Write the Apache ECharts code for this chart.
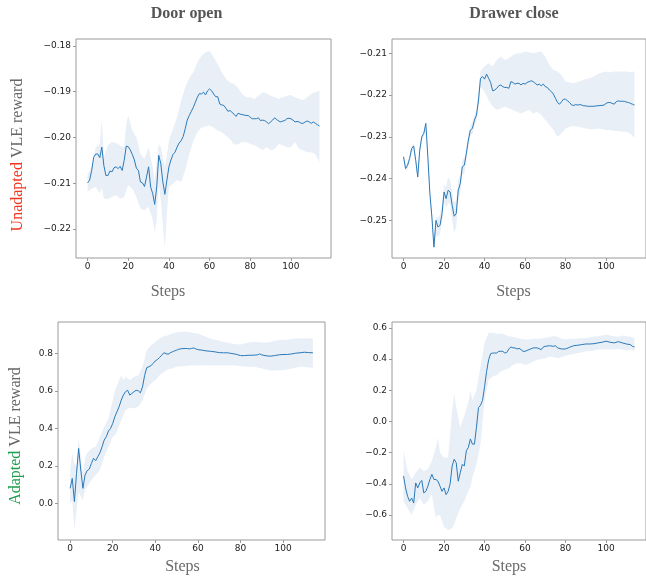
<!DOCTYPE html>
<html>
<head>
<meta charset="utf-8">
<script src="https://cdn.jsdelivr.net/npm/echarts@6/dist/echarts.min.js"></script>
<style>
  html, body { margin: 0; padding: 0; background: #ffffff; }
  #chart { width: 646px; height: 580px; }
</style>
</head>
<body>
<div id="chart"></div>
<script>
// ---- Shared tick values ----
const stepTicks = [0, 20, 40, 60, 80, 100];
const doorUnTicks = [-0.22, -0.21, -0.20, -0.19, -0.18];
const drawerUnTicks = [-0.25, -0.24, -0.23, -0.22, -0.21];
const doorAdTicks = [0.0, 0.2, 0.4, 0.6, 0.8];
const drawerAdTicks = [-0.6, -0.4, -0.2, 0.0, 0.2, 0.4, 0.6];

// ---- Door open, unadapted VLE reward ----
const doorUnSteps = [
  0,1,2,3,4,5,6,7,8,9,10,11,12,13,14,15,16,17,18,19,20,21,22,23,24,25,26,27,28,29,
  30,31,32,33,34,35,36,37,38,39,40,41,42,43,44,45,46,47,48,49,50,51,52,53,54,55,56,57,58,59,
  60,61,62,63,64,65,66,67,68,69,70,71,72,73,74,75,76,77,78,79,80,81,82,83,84,85,86,87,88,89,
  90,91,92,93,94,95,96,97,98,99,100,101,102,103,104,105,106,107,108,109,110,111,112,113,114];
const doorUnMean = [
  -0.2099,-0.2093,-0.2072,-0.2043,-0.2036,-0.2036,-0.2044,-0.2021,-0.2061,-0.2083,
  -0.2083,-0.2073,-0.2075,-0.2066,-0.2064,-0.2068,-0.2063,-0.2072,-0.2050,-0.2019,
  -0.2020,-0.2027,-0.2037,-0.2049,-0.2067,-0.2072,-0.2097,-0.2099,-0.2107,-0.2086,
  -0.2064,-0.2108,-0.2122,-0.2146,-0.2108,-0.2039,-0.2057,-0.2097,-0.2124,-0.2093,
  -0.2064,-0.2049,-0.2037,-0.2032,-0.2021,-0.2012,-0.2007,-0.1998,-0.1981,-0.1962,
  -0.1952,-0.1943,-0.1934,-0.1923,-0.1912,-0.1904,-0.1905,-0.1901,-0.1907,-0.1898,
  -0.1894,-0.1898,-0.1905,-0.1911,-0.1911,-0.1927,-0.1929,-0.1930,-0.1936,-0.1943,
  -0.1941,-0.1945,-0.1949,-0.1954,-0.1947,-0.1949,-0.1950,-0.1951,-0.1952,-0.1952,
  -0.1956,-0.1959,-0.1959,-0.1959,-0.1957,-0.1963,-0.1962,-0.1963,-0.1966,-0.1970,
  -0.1966,-0.1962,-0.1957,-0.1961,-0.1964,-0.1966,-0.1964,-0.1963,-0.1959,-0.1958,
  -0.1959,-0.1962,-0.1966,-0.1965,-0.1966,-0.1969,-0.1969,-0.1966,-0.1964,-0.1966,
  -0.1969,-0.1966,-0.1969,-0.1972,-0.1975];
const doorUnBandSteps = [
  0,2,4,6,7,8,10,12,14,16,18,19,20,22,24,26,28,30,32,33,34,35,36,37,38,39,40,
  42,44,46,48,50,52,54,56,58,60,62,64,66,68,70,72,74,76,78,80,82,84,86,88,90,
  92,94,96,98,100,102,104,106,108,110,112,114];
const doorUnUpper = [
  -0.2080,-0.2064,-0.2021,-0.2014,-0.1959,-0.2043,-0.2017,-0.2010,-0.2012,-0.2018,-0.2021,-0.1970,-0.1952,
  -0.1985,-0.1999,-0.2036,-0.2046,-0.2021,-0.2064,-0.2093,-0.2050,-0.2014,-0.2020,-0.2043,-0.2064,-0.2040,-0.2007,
  -0.1981,-0.1956,-0.1920,-0.1891,-0.1870,-0.1858,-0.1836,-0.1822,-0.1814,-0.1811,-0.1825,-0.1840,-0.1858,
  -0.1872,-0.1880,-0.1883,-0.1892,-0.1905,-0.1912,-0.1912,-0.1916,-0.1909,-0.1901,-0.1904,-0.1909,
  -0.1912,-0.1916,-0.1912,-0.1909,-0.1907,-0.1912,-0.1916,-0.1918,-0.1912,-0.1905,-0.1901,-0.1898];
const doorUnLower = [
  -0.2119,-0.2112,-0.2108,-0.2122,-0.2110,-0.2133,-0.2135,-0.2130,-0.2126,-0.2133,-0.2130,-0.2115,-0.2104,
  -0.2112,-0.2130,-0.2155,-0.2159,-0.2151,-0.2180,-0.2206,-0.2180,-0.2101,-0.2136,-0.2190,-0.2241,-0.2166,-0.2108,
  -0.2101,-0.2093,-0.2097,-0.2072,-0.2036,-0.2007,-0.1988,-0.1978,-0.1976,-0.1974,-0.1978,-0.1985,-0.1988,
  -0.1996,-0.2003,-0.2015,-0.2015,-0.2010,-0.2010,-0.2014,-0.2017,-0.2021,-0.2028,-0.2021,-0.2028,
  -0.2025,-0.2014,-0.2017,-0.2021,-0.2021,-0.2010,-0.2025,-0.2028,-0.2032,-0.2032,-0.2036,-0.2054];

// ---- Drawer close, unadapted VLE reward ----
const drawerUnSteps = doorUnSteps;
const drawerUnMean = [
  -0.2348,-0.2376,-0.2368,-0.2352,-0.2328,-0.2322,-0.2356,-0.2396,-0.2332,-0.2300,
  -0.2292,-0.2268,-0.2348,-0.2436,-0.2492,-0.2564,-0.2500,-0.2516,-0.2512,-0.2484,
  -0.2432,-0.2448,-0.2428,-0.2432,-0.2464,-0.2490,-0.2484,-0.2428,-0.2412,-0.2372,
  -0.2368,-0.2340,-0.2308,-0.2284,-0.2280,-0.2260,-0.2248,-0.2212,-0.2160,-0.2156,
  -0.2162,-0.2150,-0.2160,-0.2170,-0.2190,-0.2188,-0.2184,-0.2178,-0.2176,-0.2180,
  -0.2182,-0.2182,-0.2184,-0.2168,-0.2170,-0.2174,-0.2172,-0.2172,-0.2176,-0.2172,
  -0.2174,-0.2170,-0.2168,-0.2166,-0.2168,-0.2172,-0.2176,-0.2174,-0.2178,-0.2174,
  -0.2180,-0.2182,-0.2188,-0.2192,-0.2198,-0.2208,-0.2218,-0.2222,-0.2216,-0.2210,
  -0.2210,-0.2214,-0.2218,-0.2224,-0.2225,-0.2223,-0.2224,-0.2223,-0.2224,-0.2226,
  -0.2226,-0.2227,-0.2227,-0.2227,-0.2227,-0.2226,-0.2226,-0.2225,-0.2225,-0.2224,
  -0.2220,-0.2218,-0.2218,-0.2220,-0.2222,-0.2216,-0.2214,-0.2215,-0.2215,-0.2215,
  -0.2217,-0.2218,-0.2220,-0.2222,-0.2224];
const drawerUnBandSteps = [
  0,1,2,3,4,5,6,7,8,9,10,11,12,13,14,15,16,17,18,19,20,21,22,23,24,25,26,27,28,29,
  30,31,32,33,34,35,36,37,38,40,42,44,46,48,50,52,54,56,58,60,62,64,66,68,70,72,
  74,76,78,80,82,84,86,88,90,92,94,96,98,100,102,104,106,108,110,112,114];
const drawerUnUpper = [
  -0.2340,-0.2368,-0.2360,-0.2345,-0.2320,-0.2316,-0.2348,-0.2388,-0.2324,-0.2294,
  -0.2286,-0.2262,-0.2340,-0.2428,-0.2482,-0.2554,-0.2490,-0.2494,-0.2486,-0.2462,
  -0.2414,-0.2420,-0.2396,-0.2404,-0.2434,-0.2458,-0.2452,-0.2404,-0.2392,-0.2356,
  -0.2350,-0.2326,-0.2292,-0.2274,-0.2264,-0.2248,-0.2236,-0.2190,-0.2142,-0.2132,
  -0.2124,-0.2132,-0.2116,-0.2108,-0.2116,-0.2112,-0.2104,-0.2100,-0.2100,-0.2096,
  -0.2098,-0.2100,-0.2098,-0.2096,-0.2108,-0.2128,-0.2140,-0.2144,-0.2152,-0.2168,
  -0.2170,-0.2172,-0.2168,-0.2166,-0.2162,-0.2160,-0.2156,-0.2150,-0.2146,-0.2144,
  -0.2146,-0.2144,-0.2144,-0.2144,-0.2144,-0.2145,-0.2144];
const drawerUnLower = [
  -0.2356,-0.2384,-0.2376,-0.2360,-0.2336,-0.2330,-0.2366,-0.2406,-0.2342,-0.2308,
  -0.2300,-0.2276,-0.2358,-0.2448,-0.2504,-0.2570,-0.2536,-0.2540,-0.2532,-0.2504,
  -0.2456,-0.2470,-0.2458,-0.2462,-0.2500,-0.2532,-0.2516,-0.2456,-0.2436,-0.2392,
  -0.2388,-0.2356,-0.2322,-0.2296,-0.2294,-0.2274,-0.2262,-0.2232,-0.2180,-0.2192,
  -0.2212,-0.2228,-0.2236,-0.2232,-0.2228,-0.2232,-0.2236,-0.2240,-0.2244,-0.2240,
  -0.2236,-0.2244,-0.2240,-0.2248,-0.2260,-0.2272,-0.2284,-0.2300,-0.2292,-0.2280,
  -0.2276,-0.2274,-0.2276,-0.2278,-0.2280,-0.2282,-0.2282,-0.2280,-0.2282,-0.2284,
  -0.2284,-0.2286,-0.2286,-0.2288,-0.2288,-0.2292,-0.2302];

// ---- Door open, adapted VLE reward ----
const doorAdSteps = [
  0,1,2,3,4,5,6,7,8,9,10,11,12,13,14,15,16,17,18,19,20,21,22,23,24,25,26,27,28,29,
  30,31,32,33,34,35,36,37,38,39,40,41,42,43,44,45,46,47,48,49,50,51,52,53,54,55,56,57,58,59,
  60,62,64,66,68,70,72,74,76,78,80,82,84,86,88,89,90,92,94,96,98,100,102,104,106,108,110,112,114];
const doorAdMean = [
  0.080,0.133,0.009,0.160,0.293,0.178,0.080,0.151,0.174,0.183,
  0.213,0.240,0.228,0.249,0.270,0.302,0.338,0.356,0.386,0.400,
  0.427,0.462,0.489,0.516,0.551,0.578,0.596,0.604,0.578,0.587,
  0.596,0.604,0.601,0.590,0.622,0.684,0.725,0.729,0.736,0.747,
  0.761,0.768,0.779,0.791,0.804,0.800,0.796,0.804,0.809,0.814,
  0.818,0.823,0.825,0.827,0.827,0.827,0.825,0.827,0.830,0.825,
  0.821,0.818,0.814,0.812,0.809,0.805,0.804,0.804,0.800,0.796,
  0.789,0.789,0.791,0.791,0.793,0.798,0.793,0.788,0.786,0.789,
  0.793,0.795,0.795,0.798,0.802,0.804,0.807,0.805,0.804];
const doorAdBandSteps = [
  0,1,2,3,4,5,6,7,8,10,12,14,16,18,20,21,22,24,25,26,28,30,32,34,36,38,40,
  42,44,46,48,50,52,54,56,58,60,62,64,66,68,70,72,74,76,78,80,82,84,86,88,90,
  92,94,96,98,100,102,104,106,108,110,112,114];
const doorAdUpper = [
  0.178,0.267,0.213,0.196,0.347,0.249,0.160,0.240,0.267,0.293,0.302,0.356,0.409,0.453,0.551,0.600,0.631,
  0.684,0.658,0.676,0.658,0.676,0.684,0.729,0.818,0.844,0.862,
  0.880,0.892,0.898,0.907,0.912,0.916,0.916,0.914,0.910,0.907,0.898,0.889,0.880,0.874,0.868,0.862,0.859,
  0.853,0.850,0.848,0.853,0.859,0.862,0.862,0.859,0.859,0.862,0.868,0.871,0.874,0.874,0.878,0.880,0.880,
  0.882,0.882,0.880];
const doorAdLower = [
  -0.004,0.018,-0.142,-0.036,0.062,0.036,0.018,0.071,0.089,0.124,0.151,0.178,0.249,0.302,0.356,0.364,0.382,
  0.444,0.470,0.498,0.512,0.507,0.516,0.551,0.613,0.640,0.658,
  0.684,0.702,0.716,0.720,0.729,0.732,0.734,0.736,0.736,0.736,0.738,0.738,0.736,0.738,0.736,0.738,0.736,
  0.738,0.736,0.734,0.731,0.729,0.729,0.725,0.720,0.715,0.711,0.708,0.711,0.711,0.715,0.720,0.724,0.729,
  0.729,0.725,0.724];

// ---- Drawer close, adapted VLE reward ----
const drawerAdSteps = [
  0,1,2,3,4,5,6,7,8,9,10,11,12,13,14,15,16,17,18,19,20,21,22,23,24,25,26,27,28,29,
  30,31,32,33,34,35,36,37,38,39,40,41,42,43,44,45,46,47,48,49,50,51,52,53,54,55,56,57,58,59,
  60,61,62,64,66,68,69,70,72,74,75,76,78,80,82,84,86,88,90,92,94,96,98,100,102,104,106,108,110,112,113,114];
const drawerAdMean = [
  -0.350,-0.426,-0.480,-0.512,-0.491,-0.523,-0.394,-0.426,-0.394,-0.378,
  -0.458,-0.448,-0.415,-0.372,-0.339,-0.372,-0.372,-0.383,-0.415,-0.448,
  -0.426,-0.469,-0.448,-0.400,-0.285,-0.242,-0.264,-0.383,-0.329,-0.275,
  -0.285,-0.188,-0.166,-0.112,-0.145,-0.145,-0.037,0.089,0.104,0.136,
  0.223,0.320,0.396,0.435,0.439,0.439,0.439,0.450,0.450,0.450,
  0.439,0.443,0.465,0.478,0.472,0.472,0.465,0.469,0.461,0.450,
  0.450,0.456,0.461,0.472,0.472,0.461,0.478,0.482,0.486,0.482,
  0.486,0.472,0.465,0.465,0.476,0.486,0.489,0.493,0.497,0.497,
  0.499,0.504,0.508,0.515,0.508,0.504,0.512,0.504,0.497,0.493,
  0.482,0.478];
const drawerAdBandSteps = [
  0,2,4,6,8,10,12,14,16,17,18,20,22,24,25,26,28,30,32,33,34,36,38,40,
  42,44,46,48,50,52,54,56,58,60,62,64,66,68,70,72,74,76,78,80,82,84,86,88,90,
  92,94,96,98,100,102,104,106,108,110,112,114];
const drawerAdUpper = [
  -0.188,-0.318,-0.372,-0.329,-0.296,-0.318,-0.307,-0.253,-0.166,-0.102,-0.199,-0.231,-0.231,0.071,0.179,0.093,
  -0.037,0.039,0.125,0.201,0.136,0.201,0.352,0.504,
  0.569,0.569,0.562,0.564,0.558,0.547,0.543,0.536,0.530,0.525,0.525,0.530,0.530,0.532,0.536,0.543,0.547,
  0.543,0.530,0.525,0.530,0.530,0.532,0.534,0.536,0.541,0.543,0.547,0.551,0.558,0.551,0.547,0.543,0.551,
  0.547,0.543,0.536];
const drawerAdLower = [
  -0.512,-0.556,-0.599,-0.534,-0.491,-0.534,-0.512,-0.469,-0.621,-0.600,-0.599,-0.675,-0.696,-0.685,-0.660,-0.621,
  -0.556,-0.512,-0.448,-0.420,-0.361,-0.275,-0.145,0.136,
  0.266,0.288,0.298,0.320,0.331,0.342,0.363,0.374,0.374,0.363,0.370,0.385,0.396,0.400,0.406,0.417,0.413,
  0.406,0.413,0.422,0.428,0.432,0.439,0.443,0.450,0.450,0.456,0.461,0.461,0.461,0.461,0.461,0.465,0.461,
  0.456,0.461,0.450];

// ---- Styling ----
const LINE_COLOR = '#2a7ab9';
const BAND_COLOR = '#e9eff7';
const FRAME_COLOR = '#9a9a9a';
const SERIF = '"Liberation Serif", "DejaVu Serif", serif';

const grids = [
  { left: 76,  top: 39,  width: 255, height: 219 },
  { left: 392, top: 39,  width: 254, height: 219 },
  { left: 58,  top: 322, width: 267, height: 218 },
  { left: 392, top: 322, width: 254, height: 218 }
].map(g => Object.assign({ show: true, borderColor: FRAME_COLOR, borderWidth: 1, backgroundColor: 'transparent' }, g));

function minusFmt(digits) {
  return v => (v < -1e-9 ? '\u2212' : '') + Math.abs(v).toFixed(digits);
}

function xAxisFor(i) {
  return {
    type: 'value', gridIndex: i, position: 'bottom', min: -5.7, max: 119.7,
    splitLine: { show: false },
    axisLine: { show: false, onZero: false },
    axisTick: { show: true, inside: false, length: 3, lineStyle: { color: FRAME_COLOR }, customValues: stepTicks },
    axisLabel: { customValues: stepTicks, margin: 4, fontFamily: 'DejaVu Sans', fontSize: 9, color: '#222' }
  };
}

function yAxisFor(i, min, max, ticks, digits) {
  return {
    type: 'value', gridIndex: i, position: 'left', min: min, max: max,
    splitLine: { show: false },
    axisLine: { show: false, onZero: false },
    axisTick: { show: true, inside: false, length: 3, lineStyle: { color: FRAME_COLOR }, customValues: ticks },
    axisLabel: { customValues: ticks, margin: 5, fontFamily: 'DejaVu Sans', fontSize: 9, color: '#222', formatter: minusFmt(digits) }
  };
}

function bandSeries(i, steps, lower, upper) {
  return {
    type: 'custom', xAxisIndex: i, yAxisIndex: i, silent: true, z: 1,
    data: steps.map((s, k) => [s, lower[k], upper[k]]),
    encode: { x: 0, y: [1, 2] },
    renderItem: function (params, api) {
      if (params.dataIndex !== 0) return null;
      const pts = [];
      for (let k = 0; k < steps.length; k++) pts.push(api.coord([steps[k], upper[k]]));
      for (let k = steps.length - 1; k >= 0; k--) pts.push(api.coord([steps[k], lower[k]]));
      return { type: 'polygon', shape: { points: pts }, style: { fill: BAND_COLOR } };
    }
  };
}

function meanSeries(i, steps, mean) {
  return {
    type: 'line', xAxisIndex: i, yAxisIndex: i, z: 3,
    symbol: 'none', showSymbol: false, silent: true,
    lineStyle: { color: LINE_COLOR, width: 1 },
    data: steps.map((s, k) => [s, mean[k]])
  };
}

function label(text, x, y, opts) {
  return Object.assign({
    type: 'text', x: x, y: y, silent: true,
    style: Object.assign({ text: text, align: 'center', verticalAlign: 'middle' }, opts.style)
  }, opts.el || {});
}

const titleStyle = { font: 'bold 16px ' + SERIF, fill: '#555' };
const stepsStyle = { font: '16px ' + SERIF, fill: '#6a6a6a' };

const chart = echarts.init(document.getElementById('chart'), null, { renderer: 'canvas' });
chart.setOption({
  animation: false,
  backgroundColor: '#ffffff',
  grid: grids,
  xAxis: [xAxisFor(0), xAxisFor(1), xAxisFor(2), xAxisFor(3)],
  yAxis: [
    yAxisFor(0, -0.2263, -0.1785, doorUnTicks, 2),
    yAxisFor(1, -0.2590, -0.2066, drawerUnTicks, 2),
    yAxisFor(2, -0.196, 0.9685, doorAdTicks, 1),
    yAxisFor(3, -0.760, 0.638, drawerAdTicks, 1)
  ],
  series: [
    bandSeries(0, doorUnBandSteps, doorUnLower, doorUnUpper),
    meanSeries(0, doorUnSteps, doorUnMean),
    bandSeries(1, drawerUnBandSteps, drawerUnLower, drawerUnUpper),
    meanSeries(1, drawerUnSteps, drawerUnMean),
    bandSeries(2, doorAdBandSteps, doorAdLower, doorAdUpper),
    meanSeries(2, doorAdSteps, doorAdMean),
    bandSeries(3, drawerAdBandSteps, drawerAdLower, drawerAdUpper),
    meanSeries(3, drawerAdSteps, drawerAdMean)
  ],
  graphic: [
    label('Door open', 186.5, 13.5, { style: titleStyle }),
    label('Drawer close', 514, 13.5, { style: titleStyle }),
    label('Steps', 168, 291.5, { style: stepsStyle }),
    label('Steps', 513.5, 291.5, { style: stepsStyle }),
    label('Steps', 182.5, 566.5, { style: stepsStyle }),
    label('Steps', 509, 566.5, { style: stepsStyle }),
    label('{r|Unadapted} {g|VLE reward}', 18, 155, {
      el: { rotation: Math.PI / 2 },
      style: {
        font: '16px ' + SERIF,
        rich: {
          r: { fill: '#f5341e', fontFamily: SERIF, fontSize: 16 },
          g: { fill: '#666666', fontFamily: SERIF, fontSize: 16 }
        }
      }
    }),
    label('{a|Adapted} {g|VLE reward}', 15.5, 436, {
      el: { rotation: Math.PI / 2 },
      style: {
        font: '16px ' + SERIF,
        rich: {
          a: { fill: '#1d9e4c', fontFamily: SERIF, fontSize: 16 },
          g: { fill: '#666666', fontFamily: SERIF, fontSize: 16 }
        }
      }
    })
  ]
});
</script>
</body>
</html>
